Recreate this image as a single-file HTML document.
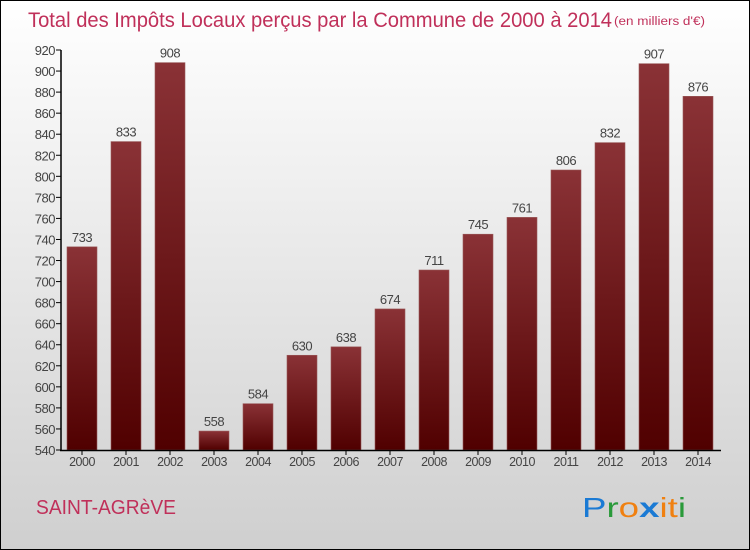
<!DOCTYPE html>
<html><head><meta charset="utf-8"><style>
body{margin:0;}
#c{width:750px;height:550px;position:relative;overflow:hidden;box-sizing:border-box;border:1px solid #000;background:linear-gradient(#ffffff,#cfcfcf);font-family:"Liberation Sans",sans-serif;}
</style></head><body>
<div id="c">
<svg id="s" width="750" height="550" style="position:absolute;left:-1px;top:-1px">
<defs><linearGradient id="g" x1="0" y1="0" x2="0" y2="1"><stop offset="0" stop-color="#8a3236"/><stop offset="1" stop-color="#500000"/></linearGradient></defs>
<text x="28" y="27" font-size="21" fill="#c0305a" textLength="584" lengthAdjust="spacingAndGlyphs">Total des Impôts Locaux perçus par la Commune de 2000 à 2014</text>
<text x="614" y="25" font-size="11.5" fill="#c0305a" textLength="91" lengthAdjust="spacingAndGlyphs">(en milliers d'€)</text>
<text x="36" y="514" font-size="20" fill="#c0305a" textLength="140" lengthAdjust="spacingAndGlyphs">SAINT-AGRèVE</text>
<g font-size="28" style="font-family:'Liberation Sans',sans-serif">
<text x="582" y="517" textLength="104" lengthAdjust="spacingAndGlyphs"><tspan fill="#1a7ad4">P</tspan><tspan fill="#2a9a3a">r</tspan><tspan fill="#f08010">o</tspan><tspan fill="#1a7ad4" font-weight="bold">x</tspan><tspan fill="#f08010">i</tspan><tspan fill="#f08010">t</tspan><tspan fill="#2a9a3a">i</tspan></text></g>
<g id="plot"></g>
</svg>
</div>
<script>
const years=["2000","2001","2002","2003","2004","2005","2006","2007","2008","2009","2010","2011","2012","2013","2014"];
const values=[733,833,908,558,584,630,638,674,711,745,761,806,832,907,876];
const yTicks=[540,560,580,600,620,640,660,680,700,720,740,760,780,800,820,840,860,880,900,920];
const NS="http://www.w3.org/2000/svg";
const plot=document.getElementById('plot');
const y=v=>450-(v-540)*(400/380);
const x=i=>82+i*44;
function mk(t,a){const e=document.createElementNS(NS,t);for(const k in a)e.setAttribute(k,a[k]);plot.appendChild(e);return e;}
yTicks.forEach(t=>{
 const l=mk('line',{x1:56,x2:61,y1:y(t),y2:y(t),stroke:'#000'});
 
 
 const tx=mk('text',{x:55,y:y(t)+5,'text-anchor':'end','font-size':13,fill:'#444','letter-spacing':'-0.5'});
 tx.textContent=t;
 
 
});
values.forEach((v,i)=>{
 const r=mk('rect',{x:x(i)-15,y:y(v),width:30,height:450-y(v),fill:'url(#g)',stroke:'#9a5a5a','stroke-width':0.6});
 
 
 const vt=mk('text',{x:x(i),y:y(v)-5,'text-anchor':'middle','font-size':13,fill:'#444','letter-spacing':'-0.5'});
 vt.textContent=v;
 
 
 const tk=mk('line',{x1:x(i),x2:x(i),y1:450,y2:455,stroke:'#000'});
 
 
 const xt=mk('text',{x:x(i),y:466,'text-anchor':'middle','font-size':12.5,fill:'#444','letter-spacing':'-0.5'});
 xt.textContent=years[i];
 
 
});
const ya=mk('line',{x1:61,x2:61,y1:50,y2:451,stroke:'#000','stroke-width':1.5});


const xa=mk('line',{x1:60,x2:721,y1:450.5,y2:450.5,stroke:'#000','stroke-width':1.5});


</script>
</body></html>
